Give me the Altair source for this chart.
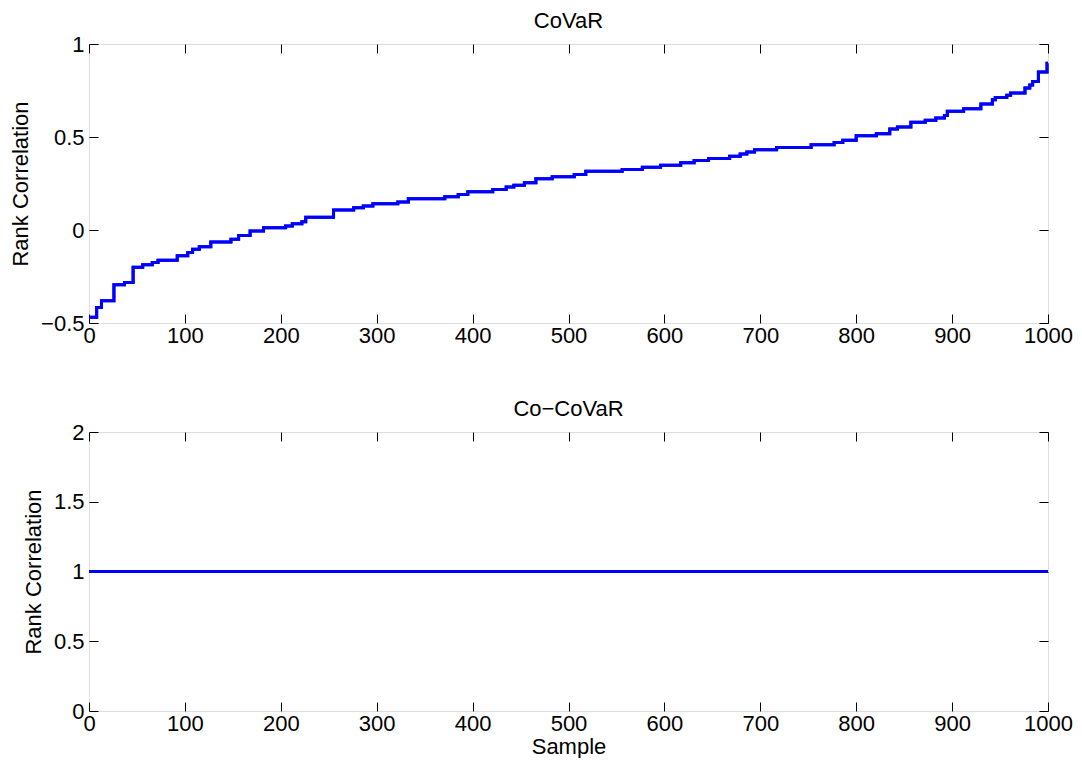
import altair as alt
import pandas as pd

# CoVaR: sorted rank correlations (step breakpoints)
covar_sample = [0, 8, 13, 26, 37, 46, 56, 66, 72, 92, 103, 108, 115, 127, 148, 156,
                168, 182, 205, 212, 222, 226, 255, 276, 286, 296, 322, 333, 371, 385,
                395, 421, 435, 443, 454, 466, 483, 506, 518, 556, 577, 596, 617, 631,
                646, 668, 679, 686, 694, 717, 753, 777, 786, 800, 821, 835, 843, 857,
                872, 883, 892, 895, 912, 930, 942, 945, 957, 961, 976, 981, 984, 990,
                999, 1000]
covar_value = [-0.469, -0.416, -0.38, -0.295, -0.282, -0.20, -0.187, -0.175, -0.162,
               -0.139, -0.121, -0.104, -0.09, -0.064, -0.05, -0.029, -0.006, 0.012,
               0.021, 0.033, 0.044, 0.069, 0.107, 0.12, 0.129, 0.141, 0.15, 0.168,
               0.179, 0.191, 0.206, 0.218, 0.231, 0.241, 0.254, 0.275, 0.286, 0.298,
               0.316, 0.325, 0.338, 0.348, 0.361, 0.373, 0.384, 0.396, 0.409, 0.419,
               0.432, 0.444, 0.459, 0.471, 0.482, 0.507, 0.518, 0.543, 0.554, 0.579,
               0.59, 0.602, 0.615, 0.638, 0.652, 0.677, 0.70, 0.713, 0.724, 0.736,
               0.763, 0.78, 0.799, 0.849, 0.897, 0.897]

# Co-CoVaR: constant rank correlation of 1
cocovar_sample = [0, 1000]
cocovar_value = [1, 1]

x_ticks = [0, 100, 200, 300, 400, 500, 600, 700, 800, 900, 1000]
y_ticks_top = [-0.5, 0, 0.5, 1]
y_ticks_bottom = [0, 0.5, 1, 1.5, 2]

FONT = "Liberation Sans"
FS = 22
TICK = 9
BLUE = "#0000ff"

df_top = pd.DataFrame({"sample": covar_sample, "corr": covar_value})
df_bot = pd.DataFrame({"sample": cocovar_sample, "corr": cocovar_value})


def panel(df, ydomain, yticks, title, xtitle, step):
    xs = alt.Scale(domain=[0, 1000], nice=False, zero=False)
    ys = alt.Scale(domain=ydomain, nice=False, zero=False)
    common = dict(offset=-TICK, tickSize=TICK, domain=False, grid=False,
                  tickColor="black", tickWidth=1, minExtent=0)
    line_kw = dict(color=BLUE, strokeWidth=3)
    if step:
        line_kw["interpolate"] = "step-after"
    main = alt.Chart(df).mark_line(**line_kw).encode(
        x=alt.X("sample:Q", scale=xs,
                axis=alt.Axis(orient="bottom", values=x_ticks, format="d",
                              labelFlush=False, labelOverlap=False, labelPadding=2,
                              labelFont=FONT, labelFontSize=FS, labelColor="black",
                              title=xtitle, titleFont=FONT, titleFontSize=FS,
                              titleFontWeight="normal", titleColor="black",
                              titlePadding=2, **common)),
        y=alt.Y("corr:Q", scale=ys,
                axis=alt.Axis(orient="left", values=yticks, format="~g",
                              labelFlush=False, labelOverlap=False, labelPadding=5,
                              labelFont=FONT, labelFontSize=FS, labelColor="black",
                              title="Rank Correlation", titleFont=FONT,
                              titleFontSize=FS, titleFontWeight="normal",
                              titleColor="black", titlePadding=8, **common)),
    )
    mirror = alt.Chart(df).mark_line(**line_kw).encode(
        x=alt.X("sample:Q", scale=xs,
                axis=alt.Axis(orient="top", values=x_ticks, labels=False, title=None,
                              **common)),
        y=alt.Y("corr:Q", scale=ys,
                axis=alt.Axis(orient="right", values=yticks, labels=False, title=None,
                              **common)),
    )
    return alt.layer(main, mirror).resolve_axis(x="independent", y="independent").properties(
        width=959, height=279,
        title=alt.TitleParams(title, font=FONT, fontSize=FS, fontWeight="normal",
                              color="black", offset=0, anchor="middle"),
    )


top = panel(df_top, [-0.5, 1], y_ticks_top, "CoVaR", None, True)
bottom = panel(df_bot, [0, 2], y_ticks_bottom, "Co\u2212CoVaR", "Sample", False)

chart = alt.vconcat(top, bottom, spacing=50).properties(
    padding={"left": 1, "top": 1, "right": 0, "bottom": 0}
).configure_view(stroke="black", strokeWidth=1).configure(background="white")

chart.save("out.html", embed_options={"renderer": "svg", "actions": False})
